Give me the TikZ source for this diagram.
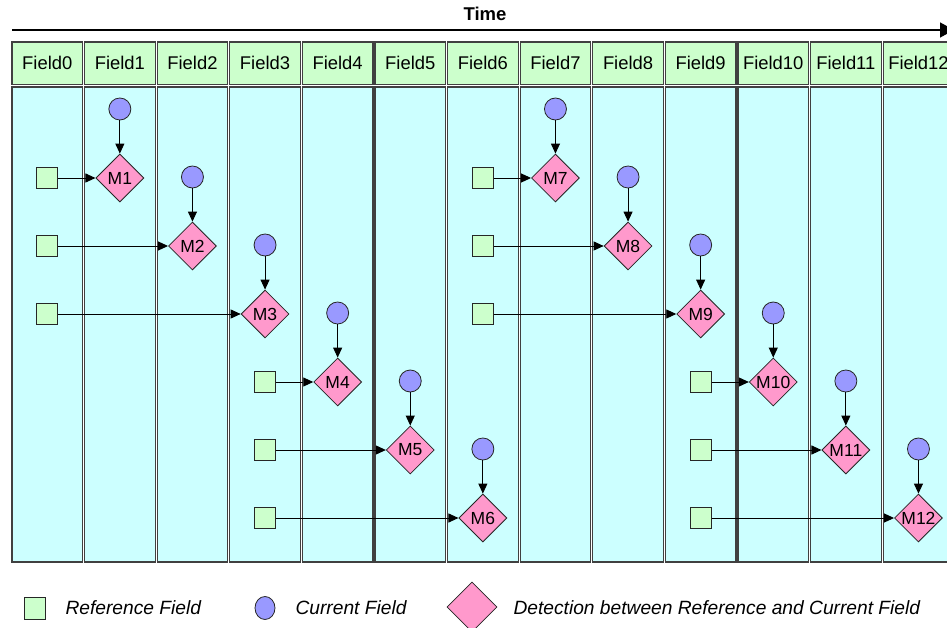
\documentclass[tikz,border=0pt]{standalone}
\usepackage{fontspec}
\setmainfont{Liberation Sans}
\usetikzlibrary{arrows.meta,shapes.geometric}
\definecolor{hdrgreen}{RGB}{204,255,204}
\definecolor{bodycyan}{RGB}{204,255,255}
\definecolor{curblue}{RGB}{153,153,255}
\definecolor{detpink}{RGB}{255,153,204}
\begin{document}
\begin{tikzpicture}[x=1pt,y=-1pt,
  txt/.style={font=\fontsize{18.4}{20}\selectfont},
  hdrbox/.style={rectangle,draw=black!75,line width=1.2pt,fill=hdrgreen,minimum width=70.5pt,minimum height=42.5pt,inner sep=0pt,txt},
  bodybox/.style={rectangle,draw=black!75,line width=1.2pt,fill=bodycyan,minimum width=70.5pt,minimum height=475pt,inner sep=0pt},
  refsq/.style={rectangle,draw=black!85,fill=hdrgreen,minimum size=21pt,inner sep=0pt,line width=0.8pt},
  curc/.style={circle,draw=black!85,fill=curblue,minimum size=22pt,inner sep=0pt,line width=0.8pt},
  detd/.style={diamond,draw=black!85,fill=detpink,minimum width=48pt,minimum height=48pt,inner sep=0pt,line width=0.8pt,font=\fontsize{17.5}{17.5}\selectfont},
  link/.style={-{Triangle[length=10pt,width=9pt]},line width=0.9pt},
  legtxt/.style={anchor=west,font=\itshape\fontsize{19.2}{21}\selectfont}]
\useasboundingbox (0,0) rectangle (947,628);
% time axis
\node[font=\bfseries\fontsize{18.5}{20}\selectfont] (time) at (485,14) {Time};
\coordinate (ts) at (12,30);
\coordinate (te) at (954,30);
\draw[-{Triangle[length=14pt,width=15pt]},line width=1.5pt] (ts) -- (te);
% lanes
\foreach \i in {0,...,12} {
  \pgfmathsetmacro\cx{47.25+72.6*\i}
  \node[hdrbox] (h\i) at (\cx,63.25) {Field\i};
  \node[bodybox] (b\i) at (\cx,324.5) {};
}
% matches
\foreach \m/\r/\c/\s in {1/1/1/0,2/2/2/0,3/3/3/0,4/4/4/3,5/5/5/3,6/6/6/3,
                         7/1/7/6,8/2/8/6,9/3/9/6,10/4/10/9,11/5/11/9,12/6/12/9} {
  \pgfmathsetmacro\yy{178+68*(\r-1)}
  \pgfmathsetmacro\yc{\yy-69}
  \pgfmathsetmacro\xd{47.25+72.6*\c}
  \pgfmathsetmacro\xs{47.25+72.6*\s}
  \node[detd] (m\m) at (\xd,\yy) {M\m};
  \node[curc] (c\m) at (\xd,\yc) {};
  \node[refsq] (r\m) at (\xs,\yy) {};
  \draw[link] (c\m) -- (m\m);
  \draw[link] (r\m) -- (m\m);
}
% legend
\node[refsq,minimum width=21pt,minimum height=22pt] (lr) at (35,608) {};
\node[legtxt] (lrt) at (62,608) {Reference Field};
\node[ellipse,draw=black!85,fill=curblue,minimum width=20pt,minimum height=23pt,inner sep=0pt,line width=0.8pt] (lc) at (265,608) {};
\node[legtxt] (lct) at (292,608) {Current Field};
\node[diamond,draw=black!85,fill=detpink,minimum width=50pt,minimum height=50pt,inner sep=0pt,line width=0.8pt] (ld) at (472,607) {};
\node[legtxt] (ldt) at (510,608) {Detection between Reference and Current Field};
\end{tikzpicture}
\end{document}
